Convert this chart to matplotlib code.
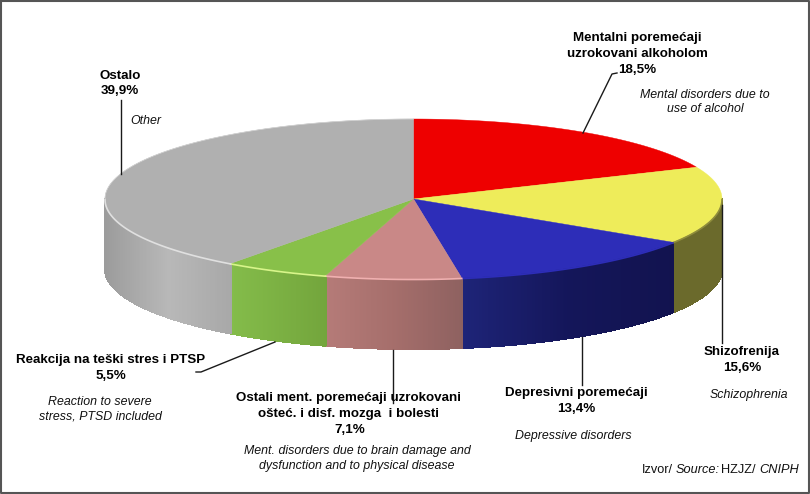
import numpy as np
import matplotlib
matplotlib.use('Agg')
import matplotlib.pyplot as plt
from matplotlib.collections import PolyCollection
from matplotlib.colors import to_rgb

# udio po skupinama, kreće od vrha u smjeru kazaljke
values = [18.5, 15.6, 13.4, 7.1, 5.5, 39.9]
top_colors = ['#ee0000', '#eeec5a', '#2d2db8', '#c98887', '#88c049', '#b0b0b0']
side_colors = [
    ['#ee0000', '#ee0000'],
    ['#6b6a2c', '#6b6a2c'],
    ['#1e2478', '#14165a', '#12134f'],
    ['#b57b78', '#a56e6b', '#8e6160'],
    ['#84bc4a', '#73a53c'],
    ['#9c9c9c', '#b8b8b8', '#a8a8a8'],
]
rim_colors = ['#f4a0a0', '#8f8d3c', '#2d2db8', '#f0b0b0', '#d8f58a', '#e0e0e0']

plt.rcParams['font.family'] = ['Liberation Sans', 'DejaVu Sans']

fig = plt.figure(figsize=(8.1, 4.94), dpi=100)
ax = fig.add_axes([0, 0, 1, 1])
ax.set_xlim(0, 810)
ax.set_ylim(494, 0)
ax.axis('off')

cx, cy = 413.5, 199
rx, ry = 308.5, 80
depth = 70


def px(t):
    return cx + rx * np.sin(t)


def py(t):
    return cy - ry * np.cos(t)


edges = np.deg2rad(np.cumsum([0] + values) * 3.6)

# bočna strana, samo prednja polovica
for i in range(len(values)):
    a = max(edges[i], np.pi / 2)
    b = min(edges[i + 1], 3 * np.pi / 2)
    if a >= b:
        continue
    ts = np.linspace(a, b, 160)
    polys = []
    cols = []
    stops = np.array([to_rgb(c) for c in side_colors[i]])
    pos = np.linspace(0, 1, len(stops))
    for t1, t2 in zip(ts[:-1], ts[1:]):
        polys.append([(px(t1), py(t1)), (px(t2), py(t2)),
                      (px(t2), py(t2) + depth), (px(t1), py(t1) + depth)])
        # boja ide s lijeva na desno
        f = (px((t1 + t2) / 2) - px(b)) / (px(a) - px(b))
        cols.append([np.interp(f, pos, stops[:, k]) for k in range(3)])
    ax.add_collection(PolyCollection(polys, facecolors=cols, edgecolors=cols,
                                     linewidths=0.8, antialiaseds=False, zorder=2))

# gornja ploha
for i in range(len(values)):
    ts = np.linspace(edges[i], edges[i + 1], 120)
    xs = np.concatenate([[cx], px(ts)])
    ys = np.concatenate([[cy], py(ts)])
    ax.fill(xs, ys, color=top_colors[i], lw=0.3, zorder=3)

# svijetli rub prema boku
for i in range(1, len(values)):
    a = max(edges[i], np.pi / 2)
    b = min(edges[i + 1], 3 * np.pi / 2)
    ts = np.linspace(a, b, 80)
    ax.plot(px(ts), py(ts) + 0.5, color=rim_colors[i], lw=1.2, zorder=4)
ts = np.linspace(3 * np.pi / 2, 2 * np.pi, 80)
ax.plot(px(ts), py(ts), color='#d4d4d4', lw=0.5, zorder=4)

# linije do oznaka
leaders = [
    ([583, 612, 617], [133, 74, 73]),
    ([722, 722], [205, 343]),
    ([582, 582], [337, 385]),
    ([393, 393], [350, 403]),
    ([275, 201, 196], [342, 372, 372]),
    ([120.5, 120.5], [174, 100]),
]
for lx, ly in leaders:
    ax.plot(lx, ly, color='#1a1a1a', lw=1.0, zorder=5)


def bold(x, y, s, size=9.6):
    ax.text(x, y, s, ha='center', va='center', fontsize=size, fontweight='bold', color='black', zorder=6)


def ital(x, y, s):
    ax.text(x, y, s, ha='center', va='center', fontsize=8.9, style='italic', color='#111111', zorder=6)


bold(637, 38, 'Mentalni poremećaji')
bold(637, 54, 'uzrokovani alkoholom')
bold(637.5, 70, '18,5%')
ital(705, 95, 'Mental disorders due to')
ital(705, 109, 'use of alcohol')

bold(120, 76, 'Ostalo')
bold(120, 91, '39,9%')
ital(146, 121, 'Other')

bold(742, 352, 'Shizofrenija')
bold(742, 368, '15,6%')
ital(749, 395, 'Schizophrenia')

bold(576, 393, 'Depresivni poremećaji')
bold(576, 409, '13,4%')
ital(573, 436, 'Depressive disorders')

bold(348.5, 398, 'Ostali ment. poremećaji uzrokovani')
bold(349, 414, 'ošteć. i disf. mozga  i bolesti')
bold(350, 430, '7,1%')
ital(357, 451, 'Ment. disorders due to brain damage and')
ital(357, 466, 'dysfunction and to physical disease')

bold(111, 360, 'Reakcija na teški stres i PTSP')
bold(111, 376, '5,5%')
ital(100, 402, 'Reaction to severe')
ital(100, 416, 'stress, PTSD included')

ax.text(642, 470, 'Izvor/', ha='left', va='center', fontsize=9.2, color='#111111')
ax.text(676, 470, 'Source:', ha='left', va='center', fontsize=9.2, style='italic', color='#111111')
ax.text(721, 470, 'HZJZ/', ha='left', va='center', fontsize=9.2, color='#111111')
ax.text(759, 470, 'CNIPH', ha='left', va='center', fontsize=9.2, style='italic', color='#111111')

# okvir
ax.plot([0.7, 809.3, 809.3, 0.7, 0.7], [0.7, 0.7, 493.3, 493.3, 0.7], color='#555555', lw=1.5, zorder=7)

fig.savefig('out.png', dpi=100, facecolor='white')
